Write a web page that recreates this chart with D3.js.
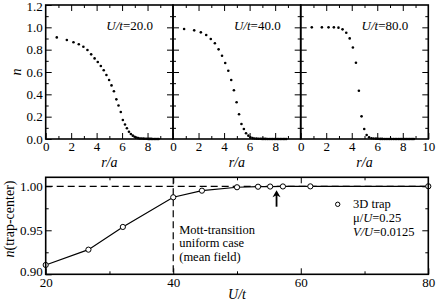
<!DOCTYPE html>
<html>
<head>
<meta charset="utf-8">
<script src="https://cdn.jsdelivr.net/npm/d3@7"></script>
<style>
  body { margin: 0; background: #fff; }
</style>
</head>
<body>
<svg id="chart" width="436" height="303"></svg>
<script>
// radial positions r/a of the lattice shells
const radius = [0.87, 1.66, 2.18, 2.6, 2.96, 3.28, 3.57, 3.84, 4.09, 4.33,
  4.56, 4.77, 4.98, 5.17, 5.36, 5.55, 5.72, 5.9, 6.06, 6.23,
  6.38, 6.54, 6.69, 6.84, 6.98, 7.12, 7.26, 7.4, 7.53, 7.67,
  7.79, 7.92, 8.05, 8.17, 8.29, 8.41, 8.53, 8.65, 8.76, 8.87];
const densU20 = [0.91, 0.886, 0.866, 0.848, 0.826, 0.797, 0.758, 0.722, 0.689, 0.654,
  0.615, 0.573, 0.528, 0.48, 0.427, 0.355, 0.3, 0.242, 0.17, 0.13,
  0.096, 0.065, 0.045, 0.03, 0.02, 0.013, 0.008, 0.005, 0.004, 0.003,
  0.002, 0.002, 0.001, 0.001, 0.001, 0, 0, 0, 0, 0];
const densU40 = [0.985, 0.973, 0.955, 0.931, 0.895, 0.857, 0.803, 0.746, 0.68, 0.611,
  0.528, 0.436, 0.329, 0.221, 0.134, 0.09, 0.051, 0.03, 0.015, 0.008,
  0.005, 0.003, 0.002, 0.002, 0.001, 0.001, 0.001, 0, 0, 0,
  0, 0, 0, 0, 0, 0, 0, 0, 0, 0];
const densU80 = [1.0, 1.0, 1.0, 1.0, 0.997, 0.982, 0.952, 0.901, 0.82, 0.683,
  0.432, 0.203, 0.09, 0.036, 0.015, 0.007, 0.004, 0.003, 0.002, 0.001,
  0.001, 0, 0, 0, 0, 0, 0, 0, 0, 0,
  0, 0, 0, 0, 0, 0, 0, 0, 0, 0];
const panelLabels = ["20.0", "40.0", "80.0"];

// trap-center density vs U/t
const uOverT = [20, 26.7, 32.1, 40, 44.5, 50, 53.3, 55.2, 57.2, 61.5, 80];
const centerDens = [0.9106, 0.928, 0.9538, 0.9875, 0.995, 0.9989, 0.9995, 0.9997, 0.9998, 0.9999, 1.0];
const mottU = 40;
const arrowU = 56.2, arrowFrom = 0.9768, arrowTo = 0.9955;

const serif = "'Liberation Serif', 'Times New Roman', Times, serif";
const svg = d3.select("#chart").attr("font-family", serif);
const font = 13;

// ---------- top row ----------
const topBox = { y0: 5, y1: 139 };
const panelX = [[45.7, 173], [173, 300.7], [300.7, 428.3]];
const yTop = d3.scaleLinear().domain([0, 1.2]).range([topBox.y1, topBox.y0]);
const sets = [densU20, densU40, densU80];

function ticks(g, axis, scale, major, minor, label, fmt) {
  g.call(axis(scale).tickValues(minor).tickSize(-3).tickFormat(""));
  const gm = g.append("g");
  gm.call(axis(scale).tickValues(major).tickSize(-6).tickPadding(3)
    .tickFormat(label ? fmt : ""));
  g.attr("font-family", serif).attr("font-size", font);
  gm.attr("font-family", serif).attr("font-size", font);
  g.selectAll(".domain").remove();
  g.selectAll("line").attr("stroke", "#000").attr("stroke-width", 1);
  g.selectAll("text").attr("font-size", font).attr("font-family", serif).attr("fill", "#000");
  return gm;
}

panelX.forEach(([a, b], i) => {
  const x = d3.scaleLinear().domain([0, 10]).range([a, b]);
  const g = svg.append("g");
  const xMaj = i === 2 ? [0, 2, 4, 6, 8, 10] : [0, 2, 4, 6, 8];
  ticks(g.append("g").attr("transform", `translate(0,${topBox.y1})`), d3.axisBottom, x,
    xMaj, [1, 3, 5, 7, 9], true, d3.format("d"));
  ticks(g.append("g").attr("transform", `translate(0,${topBox.y0})`), d3.axisTop, x,
    [2, 4, 6, 8], [1, 3, 5, 7, 9], false);
  const yMaj = [0.2, 0.4, 0.6, 0.8, 1.0];
  const yMin = [0.1, 0.3, 0.5, 0.7, 0.9, 1.1];
  const left = ticks(g.append("g").attr("transform", `translate(${a},0)`), d3.axisLeft, yTop,
    i === 0 ? [0, 0.2, 0.4, 0.6, 0.8, 1.0, 1.2] : yMaj, yMin, i === 0, d3.format(".1f"));
  // keep the top label inside the page
  left.selectAll("text").filter(d => d === 1.2).attr("dy", "0.45em");
  ticks(g.append("g").attr("transform", `translate(${b},0)`), d3.axisRight, yTop,
    yMaj, yMin, false);

  g.append("rect").attr("x", a).attr("y", topBox.y0).attr("width", b - a)
    .attr("height", topBox.y1 - topBox.y0).attr("fill", "none")
    .attr("stroke", "#000").attr("stroke-width", 1.6);

  g.selectAll("circle.d").data(sets[i]).join("circle")
    .attr("class", "d")
    .attr("cx", (d, k) => x(radius[k]))
    .attr("cy", d => yTop(d))
    .attr("r", 1.3).attr("fill", "#000");

  const t = g.append("text").attr("x", b - 20).attr("y", 29.5)
    .attr("text-anchor", "end").attr("font-size", font);
  t.append("tspan").attr("font-style", "italic").text("U/t");
  t.append("tspan").text("=" + panelLabels[i]);

  g.append("text").attr("x", (a + b) / 2).attr("y", 167)
    .attr("text-anchor", "middle").attr("font-size", 14).attr("font-style", "italic")
    .text("r/a");
});

svg.append("text").attr("transform", `translate(21,${(topBox.y0 + topBox.y1) / 2}) rotate(-90)`)
  .attr("text-anchor", "middle").attr("font-size", 14).attr("font-style", "italic").text("n");

// ---------- bottom panel ----------
const bot = { x0: 45.7, x1: 428.3, y0: 177.3, y1: 274.3 };
const xb = d3.scaleLinear().domain([20, 80]).range([bot.x0, bot.x1]);
const yb = d3.scaleLinear().domain([0.9, 1.0102]).range([bot.y1, bot.y0]);
const gb = svg.append("g");

ticks(gb.append("g").attr("transform", `translate(0,${bot.y1})`), d3.axisBottom, xb,
  [20, 40, 60, 80], [30, 50, 70], true, d3.format("d"));
ticks(gb.append("g").attr("transform", `translate(0,${bot.y0})`), d3.axisTop, xb,
  [40, 60], [30, 50, 70], false);
const bl = ticks(gb.append("g").attr("transform", `translate(${bot.x0},0)`), d3.axisLeft, yb,
  [0.9, 0.95, 1.0], [0.925, 0.975], true, d3.format(".2f"));
// lift the lowest label a little so it clears the "20" below it
bl.selectAll("text").filter(d => d === 0.9).attr("dy", "0.1em");
ticks(gb.append("g").attr("transform", `translate(${bot.x1},0)`), d3.axisRight, yb,
  [0.95, 1.0], [0.925, 0.975], false);

// dashed guides
gb.append("line").attr("x1", bot.x0).attr("x2", bot.x1)
  .attr("y1", yb(1.0)).attr("y2", yb(1.0))
  .attr("stroke", "#000").attr("stroke-width", 1.2).attr("stroke-dasharray", "7,4");
gb.append("line").attr("x1", xb(mottU)).attr("x2", xb(mottU))
  .attr("y1", bot.y0).attr("y2", bot.y1)
  .attr("stroke", "#000").attr("stroke-width", 1.2).attr("stroke-dasharray", "7,4");

const line = d3.line().x((d, k) => xb(uOverT[k])).y(d => yb(d));
gb.append("path").datum(centerDens).attr("d", line)
  .attr("fill", "none").attr("stroke", "#000").attr("stroke-width", 1.2);
gb.selectAll("circle.p").data(centerDens).join("circle")
  .attr("class", "p")
  .attr("cx", (d, k) => xb(uOverT[k])).attr("cy", d => yb(d))
  .attr("r", 2.6).attr("fill", "#fff").attr("stroke", "#000").attr("stroke-width", 1);

gb.append("rect").attr("x", bot.x0).attr("y", bot.y0).attr("width", bot.x1 - bot.x0)
  .attr("height", bot.y1 - bot.y0).attr("fill", "none")
  .attr("stroke", "#000").attr("stroke-width", 1.6);

// arrow
const ax = xb(arrowU);
gb.append("line").attr("x1", ax).attr("x2", ax)
  .attr("y1", yb(arrowFrom)).attr("y2", yb(arrowTo) + 3)
  .attr("stroke", "#000").attr("stroke-width", 1.8);
gb.append("path")
  .attr("d", `M${ax},${yb(arrowTo)} L${ax - 4},${yb(arrowTo) + 7} L${ax},${yb(arrowTo) + 5} L${ax + 4},${yb(arrowTo) + 7}Z`)
  .attr("fill", "#000");

// annotation
const noteSize = 12.5, noteGap = 13.9;
const mott = ["Mott-transition", "uniform case", "(mean field)"];
gb.selectAll("text.m").data(mott).join("text").attr("class", "m")
  .attr("x", xb(mottU) + 6).attr("y", (d, i) => 233.5 + i * noteGap)
  .attr("font-size", noteSize).text(d => d);

// legend
gb.append("circle").attr("cx", 337.7).attr("cy", 204.3).attr("r", 2.2)
  .attr("fill", "#fff").attr("stroke", "#000").attr("stroke-width", 1);
gb.append("text").attr("x", 353).attr("y", 208).attr("font-size", noteSize).text("3D trap");
const l2 = gb.append("text").attr("x", 353).attr("y", 208 + noteGap).attr("font-size", noteSize);
l2.append("tspan").text("\u03bc/");
l2.append("tspan").attr("font-style", "italic").text("U");
l2.append("tspan").text("=0.25");
const l3 = gb.append("text").attr("x", 353).attr("y", 208 + 2 * noteGap).attr("font-size", noteSize);
l3.append("tspan").attr("font-style", "italic").text("V/U");
l3.append("tspan").text("=0.0125");

// axis titles
gb.append("text").attr("x", (bot.x0 + bot.x1) / 2).attr("y", 299)
  .attr("text-anchor", "middle").attr("font-size", 14).attr("font-style", "italic").text("U/t");
const yl = svg.append("text").attr("transform", `translate(14,219) rotate(-90)`)
  .attr("text-anchor", "middle").attr("font-size", 14);
yl.append("tspan").attr("font-style", "italic").text("n");
yl.append("tspan").text("(trap-center)");
</script>
</body>
</html>
